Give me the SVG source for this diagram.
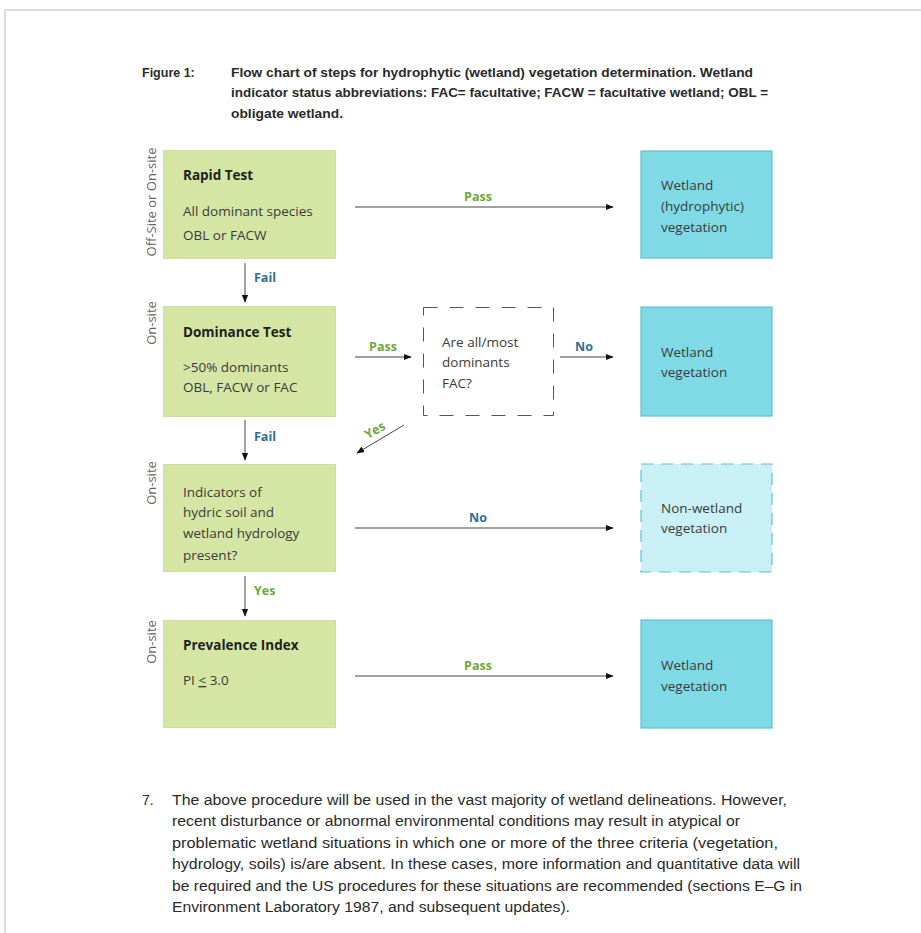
<svg xmlns="http://www.w3.org/2000/svg" width="921" height="933" viewBox="0 0 921 933">
<style>
.cap{font-family:"Liberation Sans",Arial,sans-serif;font-size:12.5px;font-weight:bold;fill:#2a2a2a}
.par{font-family:"Liberation Sans",Arial,sans-serif;font-size:14px;fill:#2a2a2a}
.t{font-family:"Open Sans","Noto Sans",sans-serif;font-size:13.5px;fill:#3a3a3a}
.tb{font-family:"Open Sans","Noto Sans",sans-serif;font-size:13.5px;font-weight:bold;fill:#1e1e1e}
.side{font-family:"Open Sans","Noto Sans",sans-serif;font-size:13px;fill:#666}
.lg{font-family:"Open Sans","Noto Sans",sans-serif;font-size:12.5px;font-weight:bold;fill:#6ea83a}
.lb{font-family:"Open Sans","Noto Sans",sans-serif;font-size:12.5px;font-weight:bold;fill:#2f6e9a}
.green{fill:#d5e6a4;stroke:#cfe09c;stroke-width:1}
.cyan{fill:#7fdae5;stroke:#5cc3cf;stroke-width:1.2}
.cyanl{fill:#c9f0f5;stroke:#5cc3cf;stroke-width:1.2;stroke-dasharray:12 8}
.q{fill:#fff;stroke:#555;stroke-width:1;stroke-dasharray:14 12}
.c{stroke:#444;stroke-width:1;fill:none;marker-end:url(#ah)}
</style>
<defs>
<marker id="ah" viewBox="0 0 10 10" refX="9" refY="5" markerWidth="8" markerHeight="8" markerUnits="userSpaceOnUse" orient="auto">
<path d="M0,1 L10,5 L0,9 z" fill="#111"/>
</marker>
</defs>
<rect width="921" height="933" fill="#fff"/>
<path d="M5,933 V10 H921" fill="none" stroke="#d0d0d0" stroke-width="1.5"/>

<g id="caption">
<text class="cap" x="142" y="77">Figure 1:</text>
<text class="cap" x="231" y="77" textLength="522" lengthAdjust="spacingAndGlyphs">Flow chart of steps for hydrophytic (wetland) vegetation determination. Wetland</text>
<text class="cap" x="231" y="97" textLength="537" lengthAdjust="spacingAndGlyphs">indicator status abbreviations: FAC= facultative; FACW = facultative wetland; OBL =</text>
<text class="cap" x="231" y="118" textLength="112" lengthAdjust="spacingAndGlyphs">obligate wetland.</text>
</g>

<g id="side-labels">
<text class="side" transform="translate(156,202) rotate(-90)" text-anchor="middle">Off-Site or On-site</text>
<text class="side" transform="translate(156,323) rotate(-90)" text-anchor="middle">On-site</text>
<text class="side" transform="translate(156,483) rotate(-90)" text-anchor="middle">On-site</text>
<text class="side" transform="translate(156,642) rotate(-90)" text-anchor="middle">On-site</text>
</g>

<g id="rapid-test">
<rect class="green" x="163.5" y="150.5" width="172" height="108"/>
<text class="tb" x="183" y="180">Rapid Test</text>
<text class="t" x="183" y="216">All dominant species</text>
<text class="t" x="183" y="240">OBL or FACW</text>
</g>

<g id="dominance-test">
<rect class="green" x="163.5" y="306.5" width="172" height="110"/>
<text class="tb" x="183" y="337">Dominance Test</text>
<text class="t" x="183" y="372">&gt;50% dominants</text>
<text class="t" x="183" y="392">OBL, FACW or FAC</text>
</g>

<g id="fac-question">
<rect class="q" x="423.5" y="307.5" width="130" height="108"/>
<text class="t" x="442" y="347">Are all/most</text>
<text class="t" x="442" y="367">dominants</text>
<text class="t" x="442" y="388">FAC?</text>
</g>

<g id="indicators">
<rect class="green" x="163.5" y="464.5" width="172" height="107"/>
<text class="t" x="183" y="497">Indicators of</text>
<text class="t" x="183" y="517">hydric soil and</text>
<text class="t" x="183" y="538">wetland hydrology</text>
<text class="t" x="183" y="560">present?</text>
</g>

<g id="prevalence-index">
<rect class="green" x="163.5" y="620.5" width="172" height="107"/>
<text class="tb" x="183" y="650">Prevalence Index</text>
<text class="t" x="183" y="685">PI <tspan text-decoration="underline">&lt;</tspan> 3.0</text>
</g>

<g id="wetland-hydrophytic">
<rect class="cyan" x="641" y="151" width="131" height="107"/>
<text class="t" x="661" y="190">Wetland</text>
<text class="t" x="661" y="211">(hydrophytic)</text>
<text class="t" x="661" y="232">vegetation</text>
</g>

<g id="wetland-vegetation-1">
<rect class="cyan" x="641" y="307" width="131" height="109"/>
<text class="t" x="661" y="357">Wetland</text>
<text class="t" x="661" y="377">vegetation</text>
</g>

<g id="non-wetland">
<rect class="cyanl" x="641" y="464" width="131" height="108"/>
<text class="t" x="661" y="513">Non-wetland</text>
<text class="t" x="661" y="533">vegetation</text>
</g>

<g id="wetland-vegetation-2">
<rect class="cyan" x="641" y="620" width="131" height="108"/>
<text class="t" x="661" y="670">Wetland</text>
<text class="t" x="661" y="691">vegetation</text>
</g>

<g id="connectors">
<line class="c" x1="355" y1="207" x2="613" y2="207"/>
<text class="lg" x="478" y="201" text-anchor="middle">Pass</text>
<line class="c" x1="245" y1="263" x2="245" y2="302"/>
<text class="lb" x="254" y="282">Fail</text>
<line class="c" x1="355" y1="357" x2="411" y2="357"/>
<text class="lg" x="383" y="351" text-anchor="middle">Pass</text>
<line class="c" x1="560" y1="357" x2="613" y2="357"/>
<text class="lb" x="584" y="351" text-anchor="middle">No</text>
<line class="c" x1="245" y1="420" x2="245" y2="460"/>
<text class="lb" x="254" y="441">Fail</text>
<line class="c" x1="404" y1="425" x2="357" y2="453"/>
<text class="lg" transform="translate(377,434) rotate(-30)" text-anchor="middle">Yes</text>
<line class="c" x1="355" y1="528" x2="613" y2="528"/>
<text class="lb" x="478" y="522" text-anchor="middle">No</text>
<line class="c" x1="245" y1="576" x2="245" y2="616"/>
<text class="lg" x="254" y="595">Yes</text>
<line class="c" x1="355" y1="676" x2="613" y2="676"/>
<text class="lg" x="478" y="670" text-anchor="middle">Pass</text>
</g>

<g id="paragraph">
<text class="par" x="142" y="805">7.</text>
<text class="par" x="172" y="805" textLength="615" lengthAdjust="spacingAndGlyphs">The above procedure will be used in the vast majority of wetland delineations. However,</text>
<text class="par" x="172" y="826" textLength="568" lengthAdjust="spacingAndGlyphs">recent disturbance or abnormal environmental conditions may result in atypical or</text>
<text class="par" x="172" y="848" textLength="606" lengthAdjust="spacingAndGlyphs">problematic wetland situations in which one or more of the three criteria (vegetation,</text>
<text class="par" x="172" y="869" textLength="628" lengthAdjust="spacingAndGlyphs">hydrology, soils) is/are absent. In these cases, more information and quantitative data will</text>
<text class="par" x="172" y="891" textLength="630" lengthAdjust="spacingAndGlyphs">be required and the US procedures for these situations are recommended (sections E–G in</text>
<text class="par" x="172" y="912" textLength="398" lengthAdjust="spacingAndGlyphs">Environment Laboratory 1987, and subsequent updates).</text>
</g>
</svg>
